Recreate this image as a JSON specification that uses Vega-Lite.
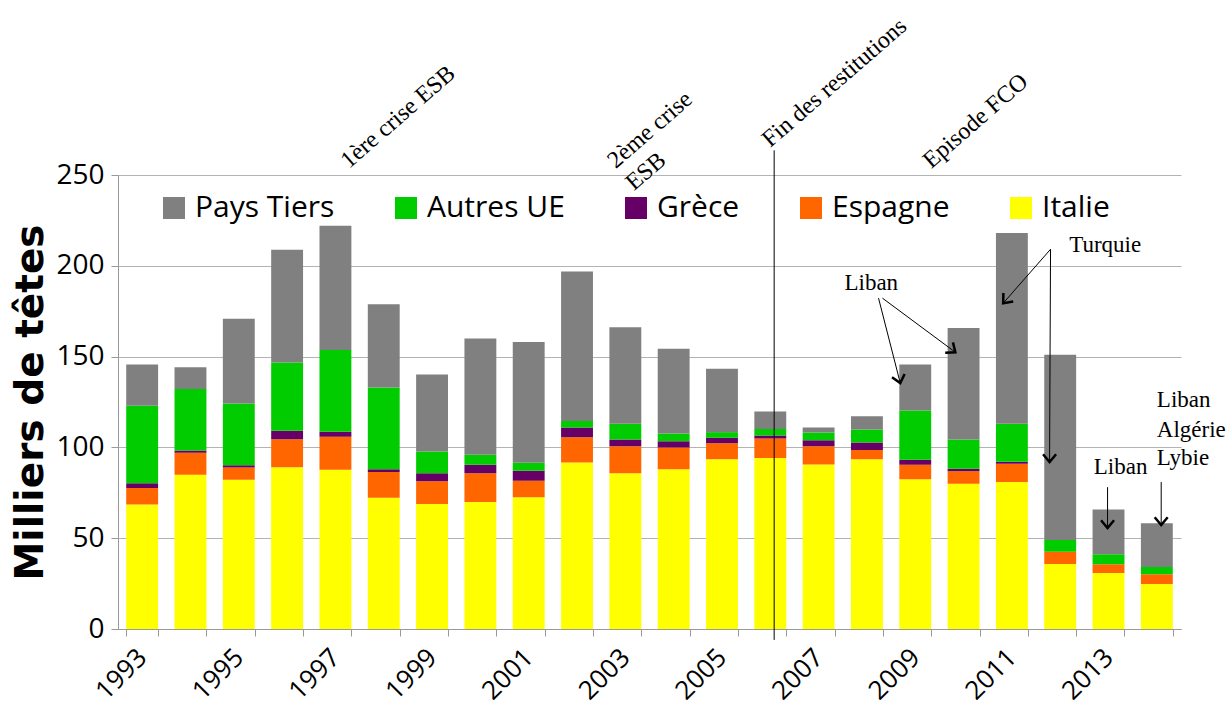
{
  "$schema": "https://vega.github.io/schema/vega-lite/v6.json",
  "width": 1063,
  "height": 454,
  "autosize": "none",
  "padding": {"left": 118, "top": 175, "right": 50, "bottom": 84},
  "background": "white",
  "config": {"view": {"stroke": null}, "font": "Open Sans"},
  "datasets": {
    "cheptel": [
      {"annee":1993,"origine":"Italie","rang":1,"valeur":68.6},{"annee":1993,"origine":"Espagne","rang":2,"valeur":9.0},{"annee":1993,"origine":"Grèce","rang":3,"valeur":2.7},{"annee":1993,"origine":"Autres UE","rang":4,"valeur":42.6},{"annee":1993,"origine":"Pays Tiers","rang":5,"valeur":22.7},
      {"annee":1994,"origine":"Italie","rang":1,"valeur":84.9},{"annee":1994,"origine":"Espagne","rang":2,"valeur":12.1},{"annee":1994,"origine":"Grèce","rang":3,"valeur":1.3},{"annee":1994,"origine":"Autres UE","rang":4,"valeur":33.9},{"annee":1994,"origine":"Pays Tiers","rang":5,"valeur":12.0},
      {"annee":1995,"origine":"Italie","rang":1,"valeur":82.2},{"annee":1995,"origine":"Espagne","rang":2,"valeur":6.8},{"annee":1995,"origine":"Grèce","rang":3,"valeur":1.2},{"annee":1995,"origine":"Autres UE","rang":4,"valeur":34.0},{"annee":1995,"origine":"Pays Tiers","rang":5,"valeur":46.6},
      {"annee":1996,"origine":"Italie","rang":1,"valeur":89.1},{"annee":1996,"origine":"Espagne","rang":2,"valeur":15.4},{"annee":1996,"origine":"Grèce","rang":3,"valeur":4.6},{"annee":1996,"origine":"Autres UE","rang":4,"valeur":37.6},{"annee":1996,"origine":"Pays Tiers","rang":5,"valeur":62.2},
      {"annee":1997,"origine":"Italie","rang":1,"valeur":87.7},{"annee":1997,"origine":"Espagne","rang":2,"valeur":18.1},{"annee":1997,"origine":"Grèce","rang":3,"valeur":2.8},{"annee":1997,"origine":"Autres UE","rang":4,"valeur":45.1},{"annee":1997,"origine":"Pays Tiers","rang":5,"valeur":68.4},
      {"annee":1998,"origine":"Italie","rang":1,"valeur":72.3},{"annee":1998,"origine":"Espagne","rang":2,"valeur":14.1},{"annee":1998,"origine":"Grèce","rang":3,"valeur":1.5},{"annee":1998,"origine":"Autres UE","rang":4,"valeur":45.1},{"annee":1998,"origine":"Pays Tiers","rang":5,"valeur":45.8},
      {"annee":1999,"origine":"Italie","rang":1,"valeur":68.8},{"annee":1999,"origine":"Espagne","rang":2,"valeur":12.5},{"annee":1999,"origine":"Grèce","rang":3,"valeur":4.5},{"annee":1999,"origine":"Autres UE","rang":4,"valeur":12.0},{"annee":1999,"origine":"Pays Tiers","rang":5,"valeur":42.3},
      {"annee":2000,"origine":"Italie","rang":1,"valeur":69.9},{"annee":2000,"origine":"Espagne","rang":2,"valeur":15.8},{"annee":2000,"origine":"Grèce","rang":3,"valeur":4.7},{"annee":2000,"origine":"Autres UE","rang":4,"valeur":5.5},{"annee":2000,"origine":"Pays Tiers","rang":5,"valeur":64.0},
      {"annee":2001,"origine":"Italie","rang":1,"valeur":72.6},{"annee":2001,"origine":"Espagne","rang":2,"valeur":9.0},{"annee":2001,"origine":"Grèce","rang":3,"valeur":5.5},{"annee":2001,"origine":"Autres UE","rang":4,"valeur":4.4},{"annee":2001,"origine":"Pays Tiers","rang":5,"valeur":66.6},
      {"annee":2002,"origine":"Italie","rang":1,"valeur":91.7},{"annee":2002,"origine":"Espagne","rang":2,"valeur":13.9},{"annee":2002,"origine":"Grèce","rang":3,"valeur":5.4},{"annee":2002,"origine":"Autres UE","rang":4,"valeur":3.6},{"annee":2002,"origine":"Pays Tiers","rang":5,"valeur":82.2},
      {"annee":2003,"origine":"Italie","rang":1,"valeur":85.8},{"annee":2003,"origine":"Espagne","rang":2,"valeur":14.9},{"annee":2003,"origine":"Grèce","rang":3,"valeur":3.7},{"annee":2003,"origine":"Autres UE","rang":4,"valeur":8.6},{"annee":2003,"origine":"Pays Tiers","rang":5,"valeur":53.2},
      {"annee":2004,"origine":"Italie","rang":1,"valeur":87.9},{"annee":2004,"origine":"Espagne","rang":2,"valeur":12.1},{"annee":2004,"origine":"Grèce","rang":3,"valeur":3.4},{"annee":2004,"origine":"Autres UE","rang":4,"valeur":4.3},{"annee":2004,"origine":"Pays Tiers","rang":5,"valeur":46.6},
      {"annee":2005,"origine":"Italie","rang":1,"valeur":93.5},{"annee":2005,"origine":"Espagne","rang":2,"valeur":8.8},{"annee":2005,"origine":"Grèce","rang":3,"valeur":3.0},{"annee":2005,"origine":"Autres UE","rang":4,"valeur":3.1},{"annee":2005,"origine":"Pays Tiers","rang":5,"valeur":34.9},
      {"annee":2006,"origine":"Italie","rang":1,"valeur":94.1},{"annee":2006,"origine":"Espagne","rang":2,"valeur":10.8},{"annee":2006,"origine":"Grèce","rang":3,"valeur":1.7},{"annee":2006,"origine":"Autres UE","rang":4,"valeur":3.6},{"annee":2006,"origine":"Pays Tiers","rang":5,"valeur":9.6},
      {"annee":2007,"origine":"Italie","rang":1,"valeur":90.6},{"annee":2007,"origine":"Espagne","rang":2,"valeur":10.1},{"annee":2007,"origine":"Grèce","rang":3,"valeur":3.3},{"annee":2007,"origine":"Autres UE","rang":4,"valeur":4.2},{"annee":2007,"origine":"Pays Tiers","rang":5,"valeur":2.8},
      {"annee":2008,"origine":"Italie","rang":1,"valeur":93.5},{"annee":2008,"origine":"Espagne","rang":2,"valeur":5.0},{"annee":2008,"origine":"Grèce","rang":3,"valeur":4.2},{"annee":2008,"origine":"Autres UE","rang":4,"valeur":7.2},{"annee":2008,"origine":"Pays Tiers","rang":5,"valeur":7.3},
      {"annee":2009,"origine":"Italie","rang":1,"valeur":82.5},{"annee":2009,"origine":"Espagne","rang":2,"valeur":7.9},{"annee":2009,"origine":"Grèce","rang":3,"valeur":2.8},{"annee":2009,"origine":"Autres UE","rang":4,"valeur":27.1},{"annee":2009,"origine":"Pays Tiers","rang":5,"valeur":25.3},
      {"annee":2010,"origine":"Italie","rang":1,"valeur":80.0},{"annee":2010,"origine":"Espagne","rang":2,"valeur":6.8},{"annee":2010,"origine":"Grèce","rang":3,"valeur":1.4},{"annee":2010,"origine":"Autres UE","rang":4,"valeur":16.2},{"annee":2010,"origine":"Pays Tiers","rang":5,"valeur":61.4},
      {"annee":2011,"origine":"Italie","rang":1,"valeur":80.9},{"annee":2011,"origine":"Espagne","rang":2,"valeur":10.1},{"annee":2011,"origine":"Grèce","rang":3,"valeur":1.1},{"annee":2011,"origine":"Autres UE","rang":4,"valeur":20.9},{"annee":2011,"origine":"Pays Tiers","rang":5,"valeur":105.1},
      {"annee":2012,"origine":"Italie","rang":1,"valeur":35.8},{"annee":2012,"origine":"Espagne","rang":2,"valeur":6.8},{"annee":2012,"origine":"Grèce","rang":3,"valeur":0},{"annee":2012,"origine":"Autres UE","rang":4,"valeur":6.4},{"annee":2012,"origine":"Pays Tiers","rang":5,"valeur":102.0},
      {"annee":2013,"origine":"Italie","rang":1,"valeur":30.8},{"annee":2013,"origine":"Espagne","rang":2,"valeur":4.8},{"annee":2013,"origine":"Grèce","rang":3,"valeur":0},{"annee":2013,"origine":"Autres UE","rang":4,"valeur":5.5},{"annee":2013,"origine":"Pays Tiers","rang":5,"valeur":24.7},
      {"annee":2014,"origine":"Italie","rang":1,"valeur":24.8},{"annee":2014,"origine":"Espagne","rang":2,"valeur":5.3},{"annee":2014,"origine":"Grèce","rang":3,"valeur":0},{"annee":2014,"origine":"Autres UE","rang":4,"valeur":4.0},{"annee":2014,"origine":"Pays Tiers","rang":5,"valeur":24.2}
    ],
    "repere": [{"x": 2006.08, "y": 263.6, "y2": -6}],
    "fleches": [
      {"x": 2008.24, "y": 182.2, "x2": 2008.69, "y2": 135.4},
      {"x": 2008.32, "y": 182.2, "x2": 2009.83, "y2": 152.4},
      {"x": 2011.80, "y": 209.1, "x2": 2010.82, "y2": 179.4},
      {"x": 2011.80, "y": 209.1, "x2": 2011.78, "y2": 91.9},
      {"x": 2012.98, "y": 78.1, "x2": 2012.98, "y2": 55.6},
      {"x": 2014.09, "y": 80.9, "x2": 2014.09, "y2": 57.2}
    ],
    "pointes_verticales": [
      {"x": 2011.78, "y": 91.9},
      {"x": 2012.98, "y": 55.6},
      {"x": 2014.09, "y": 57.2}
    ],
    "pointe_liban_2009": [{"x": 2008.69, "y": 135.4}],
    "pointe_liban_2010": [{"x": 2009.83, "y": 152.4}],
    "pointe_turquie_2011": [{"x": 2010.82, "y": 179.4}],
    "etiquettes": [
      {"x": 2008.09, "y": 190.4, "texte": "Liban"},
      {"x": 2012.93, "y": 211.3, "texte": "Turquie"},
      {"x": 2013.25, "y": 89.2, "texte": "Liban"}
    ],
    "etiquettes_gauche": [
      {"x": 2014.0, "y": 126.0, "texte": "Liban"},
      {"x": 2014.0, "y": 109.5, "texte": "Algérie"},
      {"x": 2014.0, "y": 94.1, "texte": "Lybie"}
    ],
    "evenements": [
      {"x": 1997.28, "y": 253.2, "texte": "1ère crise ESB"},
      {"x": 2002.8, "y": 253.2, "texte": "2ème crise"},
      {"x": 2003.18, "y": 241.0, "texte": "ESB"},
      {"x": 2006.0, "y": 264.8, "texte": "Fin des restitutions"},
      {"x": 2009.33, "y": 253.2, "texte": "Episode FCO"}
    ]
  },
  "layer": [
    {
      "data": {"name": "cheptel"},
      "mark": {"type": "bar"},
      "encoding": {
        "x": {
          "field": "annee", "type": "ordinal",
          "scale": {"paddingInner": 0.34, "paddingOuter": 0.17},
          "axis": {
            "title": null, "labelAngle": -45, "labelFontSize": 26, "labelFont": "Open Sans",
            "labelColor": "#000", "labelExpr": "datum.value % 2 == 1 ? datum.label : ''",
            "labelAlign": "right", "labelBaseline": "middle",
            "tickBand": "extent", "tickSize": 7, "tickColor": "#999", "domainColor": "#999",
            "labelPadding": 17, "grid": false
          }
        },
        "y": {
          "field": "valeur", "type": "quantitative", "stack": "zero",
          "scale": {"domain": [0, 250], "nice": false},
          "axis": {
            "title": "Milliers de têtes", "titleFont": "DejaVu Sans", "titleFontWeight": "bold",
            "titleFontSize": 39, "titleColor": "#000", "titlePadding": 5,
            "values": [0, 50, 100, 150, 200, 250],
            "labelFontSize": 28, "labelFont": "Open Sans", "labelColor": "#000",
            "tickSize": 7, "tickColor": "#999", "domainColor": "#999",
            "grid": true, "gridColor": "#b3b3b3", "labelPadding": 7
          }
        },
        "color": {
          "field": "origine", "type": "nominal",
          "scale": {
            "domain": ["Pays Tiers", "Autres UE", "Grèce", "Espagne", "Italie"],
            "range": ["#808080", "#00cc00", "#660066", "#ff6600", "#ffff00"]
          },
          "legend": {
            "title": null, "orient": "none", "legendX": 41, "legendY": 18,
            "direction": "horizontal", "columns": 5,
            "symbolType": "square", "symbolSize": 484, "symbolStrokeWidth": 0,
            "labelFontSize": 30, "labelFont": "Open Sans", "labelColor": "#000",
            "columnPadding": 56, "labelOffset": 6, "labelLimit": 300
          }
        },
        "order": {"field": "rang", "type": "quantitative", "sort": "ascending"}
      }
    },
    {
      "data": {"name": "repere"},
      "mark": {"type": "rule", "color": "#000", "strokeWidth": 1},
      "encoding": {
        "x": {"field": "x", "type": "quantitative", "scale": {"domain": [1992.5, 2014.5], "nice": false, "zero": false}, "axis": null},
        "y": {"field": "y", "type": "quantitative", "scale": {"domain": [0, 250], "nice": false}, "axis": null},
        "y2": {"field": "y2"}
      }
    },
    {
      "data": {"name": "fleches"},
      "mark": {"type": "rule", "color": "#000", "strokeWidth": 1},
      "encoding": {
        "x": {"field": "x", "type": "quantitative", "scale": {"domain": [1992.5, 2014.5], "nice": false, "zero": false}, "axis": null},
        "y": {"field": "y", "type": "quantitative", "scale": {"domain": [0, 250], "nice": false}, "axis": null},
        "x2": {"field": "x2"},
        "y2": {"field": "y2"}
      }
    },
    {
      "data": {"name": "pointes_verticales"},
      "mark": {"type": "point", "shape": "M-1,-1.2L0,0L1,-1.2", "size": 169, "filled": false, "stroke": "#000", "strokeWidth": 2.5, "opacity": 1, "angle": 0},
      "encoding": {
        "x": {"field": "x", "type": "quantitative", "scale": {"domain": [1992.5, 2014.5], "nice": false, "zero": false}, "axis": null},
        "y": {"field": "y", "type": "quantitative", "scale": {"domain": [0, 250], "nice": false}, "axis": null}
      }
    },
    {
      "data": {"name": "pointe_liban_2009"},
      "mark": {"type": "point", "shape": "M-1,-1.2L0,0L1,-1.2", "size": 169, "filled": false, "stroke": "#000", "strokeWidth": 2.5, "opacity": 1, "angle": 345.5},
      "encoding": {
        "x": {"field": "x", "type": "quantitative", "scale": {"domain": [1992.5, 2014.5], "nice": false, "zero": false}, "axis": null},
        "y": {"field": "y", "type": "quantitative", "scale": {"domain": [0, 250], "nice": false}, "axis": null}
      }
    },
    {
      "data": {"name": "pointe_liban_2010"},
      "mark": {"type": "point", "shape": "M-1,-1.2L0,0L1,-1.2", "size": 169, "filled": false, "stroke": "#000", "strokeWidth": 2.5, "opacity": 1, "angle": 306.5},
      "encoding": {
        "x": {"field": "x", "type": "quantitative", "scale": {"domain": [1992.5, 2014.5], "nice": false, "zero": false}, "axis": null},
        "y": {"field": "y", "type": "quantitative", "scale": {"domain": [0, 250], "nice": false}, "axis": null}
      }
    },
    {
      "data": {"name": "pointe_turquie_2011"},
      "mark": {"type": "point", "shape": "M-1,-1.2L0,0L1,-1.2", "size": 169, "filled": false, "stroke": "#000", "strokeWidth": 2.5, "opacity": 1, "angle": 41},
      "encoding": {
        "x": {"field": "x", "type": "quantitative", "scale": {"domain": [1992.5, 2014.5], "nice": false, "zero": false}, "axis": null},
        "y": {"field": "y", "type": "quantitative", "scale": {"domain": [0, 250], "nice": false}, "axis": null}
      }
    },
    {
      "data": {"name": "etiquettes"},
      "mark": {"type": "text", "font": "Liberation Serif", "fontSize": 23, "color": "#000", "align": "center", "baseline": "middle"},
      "encoding": {
        "x": {"field": "x", "type": "quantitative", "scale": {"domain": [1992.5, 2014.5], "nice": false, "zero": false}, "axis": null},
        "y": {"field": "y", "type": "quantitative", "scale": {"domain": [0, 250], "nice": false}, "axis": null},
        "text": {"field": "texte"}
      }
    },
    {
      "data": {"name": "etiquettes_gauche"},
      "mark": {"type": "text", "font": "Liberation Serif", "fontSize": 23, "color": "#000", "align": "left", "baseline": "middle"},
      "encoding": {
        "x": {"field": "x", "type": "quantitative", "scale": {"domain": [1992.5, 2014.5], "nice": false, "zero": false}, "axis": null},
        "y": {"field": "y", "type": "quantitative", "scale": {"domain": [0, 250], "nice": false}, "axis": null},
        "text": {"field": "texte"}
      }
    },
    {
      "data": {"name": "evenements"},
      "mark": {"type": "text", "font": "Liberation Serif", "fontSize": 24, "color": "#000", "align": "left", "baseline": "alphabetic", "angle": 319},
      "encoding": {
        "x": {"field": "x", "type": "quantitative", "scale": {"domain": [1992.5, 2014.5], "nice": false, "zero": false}, "axis": null},
        "y": {"field": "y", "type": "quantitative", "scale": {"domain": [0, 250], "nice": false}, "axis": null},
        "text": {"field": "texte"}
      }
    }
  ],
  "resolve": {"scale": {"x": "independent"}, "axis": {"x": "independent", "y": "independent"}}
}
